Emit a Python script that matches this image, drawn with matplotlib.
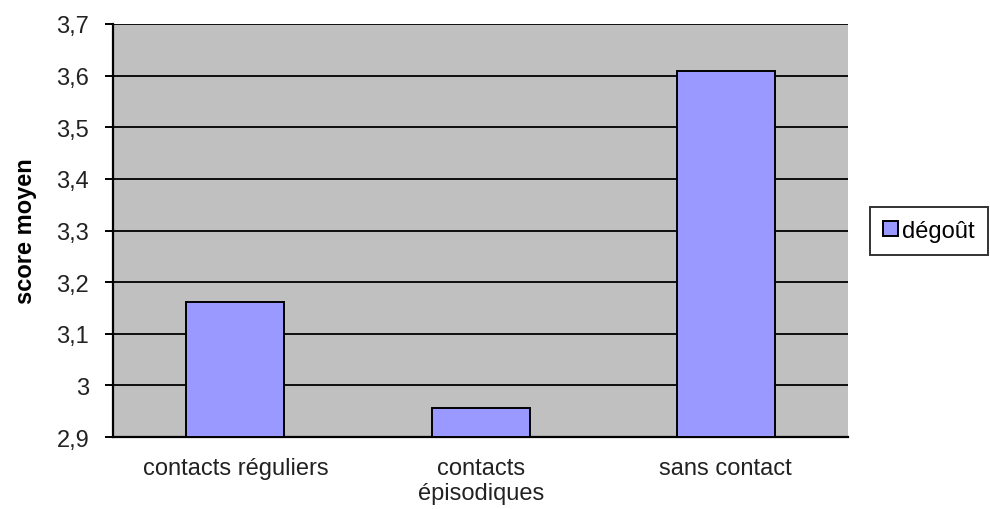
import numpy as np
import matplotlib.pyplot as plt

categories = ['contacts réguliers', 'contacts\népisodiques', 'sans contact']
degout = [3.162, 2.956, 3.609]
yticks = [2.9, 3.0, 3.1, 3.2, 3.3, 3.4, 3.5, 3.6, 3.7]
yticklabels = ['2,9', '3', '3,1', '3,2', '3,3', '3,4', '3,5', '3,6', '3,7']

plt.rcParams['font.family'] = ['Liberation Sans', 'DejaVu Sans']
fs = 17

fig = plt.figure(figsize=(9.9, 5.1), dpi=100)
ax = fig.add_axes([0.114, 0.141, 0.743, 0.810])
ax.set_facecolor('#c0c0c0')

x = np.arange(len(categories))
ax.bar(x, np.array(degout) - 2.9, bottom=2.9, width=0.4, color='#9999ff',
       edgecolor='black', linewidth=1.4, label='dégoût', zorder=3)

ax.set_ylim(2.9, 3.7)
ax.set_xlim(-0.5, 2.5)
ax.set_yticks(yticks)
ax.set_yticklabels(yticklabels, fontsize=fs, color='#222222')
ax.set_xticks(x)
ax.set_xticklabels(categories, fontsize=fs, linespacing=1.2, color='#222222')
ax.yaxis.grid(True, color='black', linewidth=1.3, zorder=1)
ax.set_axisbelow(True)
ax.tick_params(axis='y', direction='out', length=6, width=1.4, pad=11)
ax.tick_params(axis='x', length=0, pad=14)

for side in ['top', 'right']:
    ax.spines[side].set_visible(False)
ax.spines['left'].set_linewidth(1.6)
ax.spines['bottom'].set_linewidth(1.6)

ax.set_ylabel('score moyen', fontsize=fs, fontweight='bold', labelpad=14)

leg = ax.legend(loc='center left', bbox_to_anchor=(1.03, 0.5), fontsize=fs,
                frameon=True, fancybox=False, edgecolor='black',
                handlelength=0.6, handleheight=0.6, handletextpad=0.2,
                borderpad=0.55, borderaxespad=0)
leg.get_frame().set_linewidth(1.4)

fig.savefig('out.png', dpi=100)
